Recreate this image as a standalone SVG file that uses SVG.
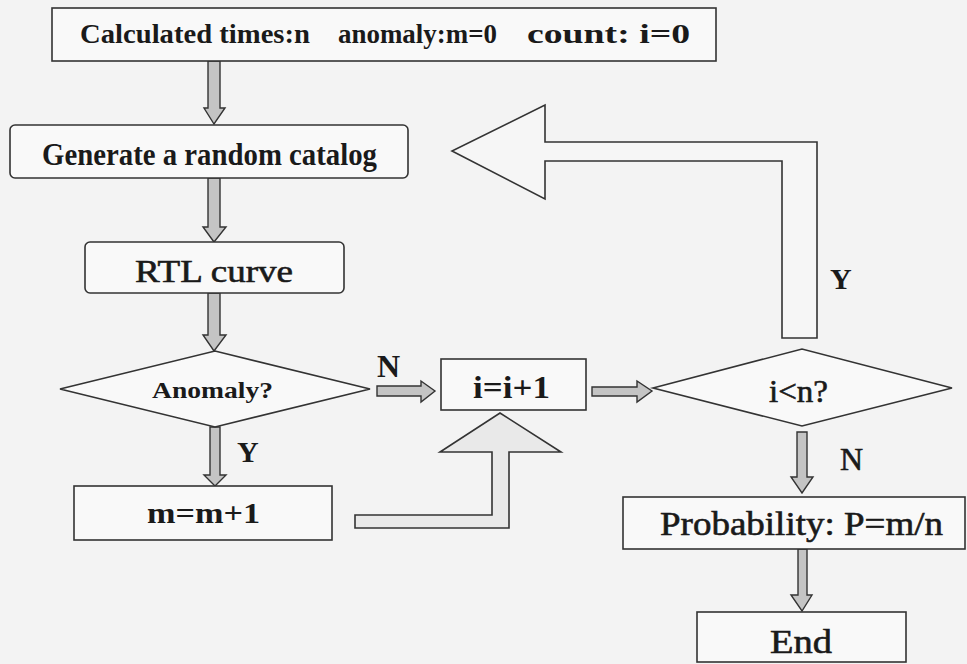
<svg xmlns="http://www.w3.org/2000/svg" width="967" height="664" viewBox="0 0 967 664">
<style>
.box{fill:#f9f9f9;stroke:#333;stroke-width:1.6}
.arr{fill:#c4c4c4;stroke:#333;stroke-width:1.4;stroke-linejoin:miter}
.big{fill:#f6f6f6;stroke:#333;stroke-width:1.6}
.bigg{fill:#e9e9e9;stroke:#333;stroke-width:1.6}
text{font-family:"Liberation Serif","Times New Roman",serif;fill:#1a1a1a}
.b{font-weight:bold}
.r{stroke:#1a1a1a;stroke-width:0.6}
</style>
<rect x="0" y="0" width="967" height="664" fill="#f3f3f3"/>
<g id="connectors">
<polygon class="arr" points="208,61 220,61 220,108 225,108 214,124 204,108 208,108"/>
<polygon class="arr" points="208,178 220,178 220,227 226,227 214,242 203,227 208,227"/>
<polygon class="arr" points="208,293 220,293 220,335 226,335 214,351 203,335 208,335"/>
<polygon class="arr" points="210,427 220,427 220,475 226,475 215,486 204,475 210,475"/>
<polygon class="arr" points="377,386 421,386 421,381 435,391 421,402 421,396 377,396"/>
<polygon class="arr" points="592,387 637,387 637,381 652,391 637,402 637,396 592,396"/>
<polygon class="arr" points="797,432 807,432 807,477 813,477 802,493 791,477 797,477"/>
<polygon class="arr" points="798,549 807,549 807,595 812,595 802,611 791,595 798,595"/>
<polygon class="bigg" points="355,515 492,515 492,452 440,452 500,413 561,452 509,452 509,528 355,528"/>
<polygon class="big" points="817,338 817,142 545,142 545,105 452,151 545,199 545,161 782,161 782,338"/>
<text class="b" x="377" y="377" font-size="32">N</text>
<text class="b" x="237" y="462" font-size="30">Y</text>
<text class="r" x="840" y="470" font-size="32">N</text>
<text class="b" x="830" y="289" font-size="30">Y</text>
</g>
<g id="start">
<rect class="box" x="52" y="8" width="664" height="53"/>
<text class="b" x="80" y="43" font-size="27" textLength="230" lengthAdjust="spacingAndGlyphs">Calculated times:n</text>
<text class="b" x="338" y="43" font-size="27" textLength="159" lengthAdjust="spacingAndGlyphs">anomaly:m=0</text>
<text class="b" x="527" y="43" font-size="27" textLength="163" lengthAdjust="spacingAndGlyphs">count: i=0</text>
</g>
<g id="generate">
<rect class="box" x="10" y="125" width="398" height="53" rx="5"/>
<text class="b" x="42" y="165" font-size="32" textLength="335" lengthAdjust="spacingAndGlyphs">Generate a random catalog</text>
</g>
<g id="rtl">
<rect class="box" x="85" y="242" width="259" height="51" rx="5"/>
<text class="r" x="135" y="282" font-size="32" textLength="158" lengthAdjust="spacingAndGlyphs">RTL curve</text>
</g>
<g id="anomaly">
<polygon class="box" points="60,389 215,351 370,389 215,427"/>
<text class="b" x="152" y="398" font-size="24" textLength="121" lengthAdjust="spacingAndGlyphs">Anomaly?</text>
</g>
<g id="mplus">
<rect class="box" x="74" y="486" width="258" height="54"/>
<text class="b" x="147" y="523" font-size="30" textLength="113" lengthAdjust="spacingAndGlyphs">m=m+1</text>
</g>
<g id="iplus">
<rect class="box" x="441" y="359" width="145" height="51"/>
<text class="b" x="473" y="398" font-size="32" textLength="77" lengthAdjust="spacingAndGlyphs">i=i+1</text>
</g>
<g id="ilessn">
<polygon class="box" points="653,388 802,349 952,388 802,426"/>
<text class="r" x="769" y="402" font-size="32" textLength="59" lengthAdjust="spacingAndGlyphs">i&lt;n?</text>
</g>
<g id="probability">
<rect class="box" x="623" y="497" width="342" height="52"/>
<text class="r" x="660" y="535" font-size="34" textLength="283" lengthAdjust="spacingAndGlyphs">Probability: P=m/n</text>
</g>
<g id="end">
<rect class="box" x="697" y="612" width="209" height="50"/>
<text class="r" x="770" y="653" font-size="34" textLength="62" lengthAdjust="spacingAndGlyphs">End</text>
</g>
</svg>
